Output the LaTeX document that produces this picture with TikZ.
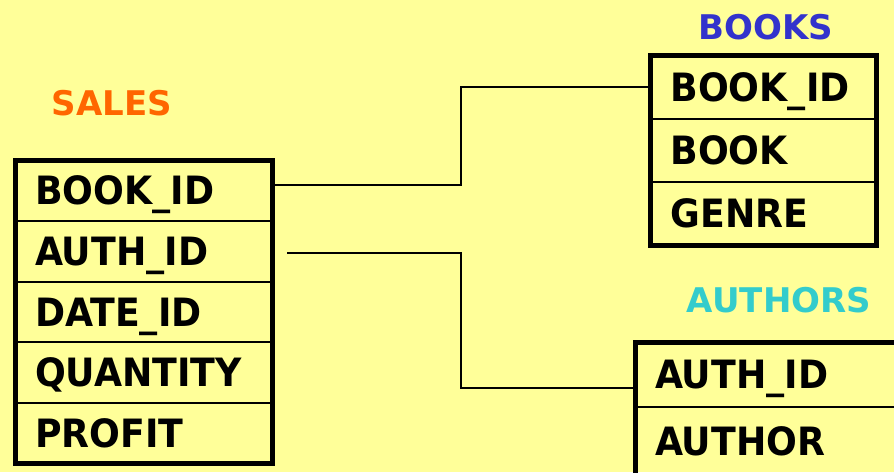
\documentclass[tikz,border=0pt]{standalone}
\usepackage{fontspec}
\setmainfont{DejaVu Sans}
\newfontfamily\rowfont{DejaVu Sans}[FakeStretch=0.93]
\usepackage{tikz}
\usetikzlibrary{positioning,calc,fit}
\definecolor{mPaper}{HTML}{FFFF99}
\definecolor{mSales}{HTML}{FF6600}
\definecolor{mBooks}{HTML}{3333CC}
\definecolor{mAuthors}{HTML}{33CCCC}

\begin{document}
\begin{tikzpicture}[x=0.5pt, y=-0.5pt,
  rowbox/.style={draw, line width=1pt, outer sep=0pt, inner xsep=10pt, inner ysep=0pt, align=left, text height=14pt, text depth=0pt, font=\rowfont\bfseries\fontsize{19.5}{20}\selectfont},
  salesrow/.style={rowbox, text width=108.5pt, minimum height=30.3pt},
  booksrow/.style={rowbox, text width=93pt, minimum height=31.65pt},
  authrow/.style={rowbox, text width=130pt, minimum height=32pt},
  tableframe/.style={draw, line width=2.5pt, inner sep=0pt},
  tabletitle/.style={font=\bfseries\fontsize{17}{18}\selectfont},
  link/.style={line width=0.8pt}]
\useasboundingbox (0,0) rectangle (894,472);
\fill[mPaper] (0,0) rectangle (894,472);
\clip (0,0) rectangle (894,472);

% sales table
\node[salesrow, anchor=north west] (sbook) at (15,160.5) {BOOK\_ID};
\node[salesrow, below=0pt of sbook] (sauth) {AUTH\_ID};
\node[salesrow, below=0pt of sauth] (sdate) {DATE\_ID};
\node[salesrow, below=0pt of sdate] (sqty) {QUANTITY};
\node[salesrow, below=0pt of sqty] (sprofit) {PROFIT};
\node[tableframe, fit=(sbook)(sprofit)] (sales) {};
\node[tabletitle, text=mSales] (salesname) at (112,103) {SALES};

% books table
\node[booksrow, anchor=north west] (bbook) at (650.5,55.5) {BOOK\_ID};
\node[booksrow, below=0pt of bbook] (bname) {BOOK};
\node[booksrow, below=0pt of bname] (bgenre) {GENRE};
\node[tableframe, fit=(bbook)(bgenre)] (books) {};
\node[tabletitle, text=mBooks] (booksname) at (766,27.5) {BOOKS};

% authors table (runs on past the page)
\node[authrow, anchor=north west] (aauth) at (635,342.5) {AUTH\_ID};
\node[authrow, below=0pt of aauth, minimum height=35pt] (aname) {AUTHOR};
\draw[line width=2.5pt] ($(aname.south west)+(0,30)$) |- ($(aauth.north east)+(60,0)$);
\node[tabletitle, text=mAuthors] (authname) at (779,300) {AUTHORS};

% keys
\draw[link] ($(sbook.east)+(0,-6)$) -| ($(sbook.east)!.5!(bbook.west)$) |- (bbook.west);
\coordinate (authfree) at ($(sauth.east)+(15,1.5)$);
\coordinate (authend) at ($(aauth.west)+(0,13.5)$);
\draw[link] (authfree) -| ($(authfree)!.5!(authend)$) |- (authend);
\end{tikzpicture}
\end{document}
